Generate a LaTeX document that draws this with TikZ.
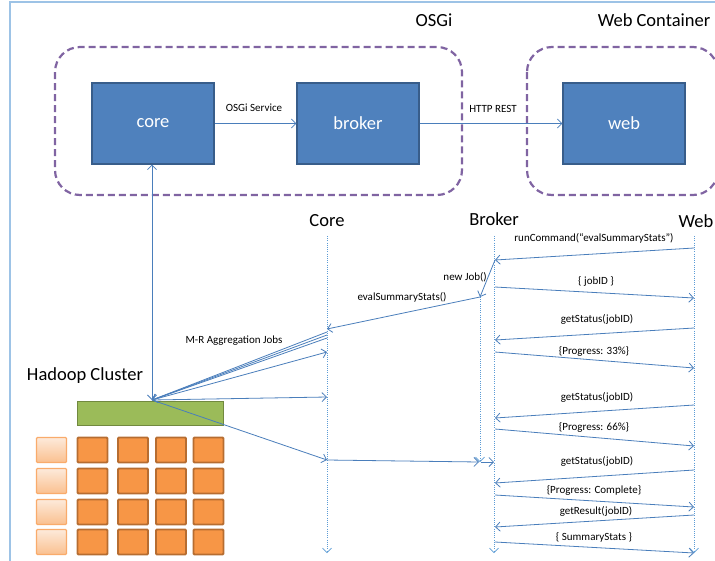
\documentclass[tikz,border=0pt]{standalone}
\usepackage{fontspec}
\setmainfont{Carlito}
\usetikzlibrary{arrows.meta}
\definecolor{boxblue}{HTML}{4F81BD}
\definecolor{boxbord}{HTML}{385D8A}
\definecolor{purp}{HTML}{8064A2}
\definecolor{framec}{HTML}{9DC3E6}
\definecolor{lnblue}{HTML}{4A7EBB}
\definecolor{lifec}{HTML}{5B9BD5}
\definecolor{grn}{HTML}{9BBB59}
\definecolor{grnb}{HTML}{71893F}
\definecolor{org}{HTML}{F79646}
\definecolor{orgb}{HTML}{B66D31}
\definecolor{peachT}{HTML}{FDEADA}
\definecolor{peachB}{HTML}{FAC090}
\begin{document}
\begin{tikzpicture}[x=1pt,y=-1pt,
  comp/.style={draw=boxbord, line width=1.2pt, fill=boxblue, text=white,
    minimum width=122pt, minimum height=81pt, inner sep=0pt,
    font=\fontsize{18.5}{20}\selectfont},
  container/.style={draw=purp, line width=2.2pt, dash pattern=on 7pt off 4pt, rounded corners=25pt},
  title/.style={font=\fontsize{18.5}{20}\selectfont, inner sep=0pt},
  lbl/.style={font=\fontsize{11}{12}\selectfont, inner sep=0pt},
  tip/.style={-{Straight Barb[length=4.5pt,width=9pt]}},
  msg/.style={draw=lnblue, line width=0.8pt, tip},
  life/.style={draw=lifec, line width=0.6pt, dash pattern=on 1pt off 1.2pt,
    -{Straight Barb[length=4.5pt,width=9pt,line width=0.7pt]}},
  osq/.style={draw=orgb, line width=1.8pt, fill=org, rounded corners=1pt,
    minimum width=30pt, minimum height=25pt, inner sep=0pt},
  psq/.style={draw=org!80, line width=1.2pt, top color=peachT, bottom color=peachB,
    rounded corners=1pt, minimum width=30pt, minimum height=25pt, inner sep=0pt}
]
\clip (0,0) rectangle (715,560);
\useasboundingbox (0,0) rectangle (715,560);
% outer frame
\draw[framec, line width=1.5pt] (10,562) -- (10,2) -- (720,2);

% containers
\draw[container] (55,47) rectangle (462,195);
\draw[container] (527,47) rectangle (718,195);
\node[title] (tosgi) at (434,20) {OSGi};
\node[title] (tweb) at (654,20) {Web Container};

% components
\node[comp] (core) at (153,123.5) {core};
\node[comp] (broker) at (358,123.5) {broker};
\node[comp] (web) at (624,123.5) {web};
\draw[msg] (core.east) -- (broker.west);
\draw[msg] (broker.east) -- (web.west);
\node[lbl] (losgi) at (254,108) {OSGi Service};
\node[lbl] (lhttp) at (493,109) {HTTP REST};

% Hadoop cluster
\node[title] (thad) at (85,376) {Hadoop Cluster};
\node[draw=grnb, line width=1.8pt, fill=grn, minimum width=146pt, minimum height=24pt, inner sep=0pt] (bar) at (150.5,413.5) {};
\foreach \r/\y in {1/450,2/481,3/512,4/542}{
  \node[psq] (p\r) at (51.5,\y) {};
  \foreach \c/\x in {1/92.5,2/133,3/171,4/208.5}{
    \node[osq] (q\r\c) at (\x,\y) {};
  }
}
\coordinate (hp) at (152,400);
\draw[msg, {Straight Barb[length=4.5pt,width=9pt]}-{Straight Barb[length=4.5pt,width=9pt]}] (hp) -- (hp |- core.south);

% lifelines
\node[title] (lcore) at (327,221) {Core};
\node[title] (lbroker) at (494,219) {Broker};
\node[title] (lweb) at (696,221) {Web};
\coordinate (cT) at (327,236); \coordinate (cB) at (327,553);
\coordinate (bT) at (494,236); \coordinate (bB) at (494,553);
\coordinate (wT) at (694,236); \coordinate (wB) at (694,553);
\coordinate (aT) at (480,297); \coordinate (aB) at (480,462);
\draw[life] (cT) -- (cB);
\draw[life] (bT) -- (bB);
\draw[life] (wT) -- (wB);
\draw[life] (aT) -- (aB);

% messages web <-> broker
\coordinate (m1s) at (694,248); \coordinate (m1e) at (495,260);
\draw[msg] (m1s) -- (m1e);
\node[lbl] (l1) at (594,238) {runCommand(“evalSummaryStats”)};
\draw[msg] (m1e) -- (aT);
\node[lbl, anchor=east] (l2) at (487,277) {new Job()};
\coordinate (m3s) at (495,287); \coordinate (m3e) at (694,298);
\draw[msg] (m3s) -- (m3e);
\node[lbl] (l3) at (596,281) {\{ jobID \}};
\coordinate (m4e) at (327,329);
\draw[msg] (aT) -- (m4e);
\node[lbl] (l4) at (402,297) {evalSummaryStats()};

\coordinate (m5s) at (694,328); \coordinate (m5e) at (495,340);
\draw[msg] (m5s) -- (m5e);
\node[lbl] (l5) at (597,319) {getStatus(jobID)};
\coordinate (m6s) at (495,352); \coordinate (m6e) at (694,368);
\draw[msg] (m6s) -- (m6e);
\node[lbl] (l6) at (594,351) {\{Progress: 33\%\}};
\coordinate (m7s) at (694,405); \coordinate (m7e) at (495,418);
\draw[msg] (m7s) -- (m7e);
\node[lbl] (l7) at (597,397) {getStatus(jobID)};
\coordinate (m8s) at (495,429); \coordinate (m8e) at (694,446);
\draw[msg] (m8s) -- (m8e);
\node[lbl] (l8) at (594,427) {\{Progress: 66\%\}};
\coordinate (m9s) at (694,470); \coordinate (m9e) at (495,483);
\draw[msg] (m9s) -- (m9e);
\node[lbl] (l9) at (597,461) {getStatus(jobID)};
\coordinate (m10s) at (495,495); \coordinate (m10e) at (694,507);
\draw[msg] (m10s) -- (m10e);
\node[lbl] (l10) at (594,490) {\{Progress: Complete\}};
\coordinate (m11s) at (694,515); \coordinate (m11e) at (495,527);
\draw[msg] (m11s) -- (m11e);
\node[lbl] (l11) at (596,511) {getResult(jobID)};
\coordinate (m12s) at (495,542); \coordinate (m12e) at (694,553);
\draw[msg] (m12s) -- (m12e);
\node[lbl] (l12) at (594,537) {\{ SummaryStats \}};

% M-R jobs core <-> hadoop
\coordinate (j1) at (327,332); \coordinate (j2) at (327,335); \coordinate (j3) at (327,338);
\draw[msg] (j1) -- (hp);
\draw[msg] (j2) -- (hp);
\draw[msg] (j3) -- (hp);
\coordinate (r1) at (327,352); \coordinate (r2) at (327,397); \coordinate (r3) at (327,460);
\draw[msg] (hp) -- (r1);
\draw[msg] (hp) -- (r2);
\draw[msg] (hp) -- (r3);
\node[lbl] (lmr) at (234,341) {M-R Aggregation Jobs};
\coordinate (r4) at (479,462);
\draw[msg] (r3) -- (r4);
\coordinate (r5) at (481,462); \coordinate (r6) at (494,462);
\draw[msg] (r5) -- (r6);
\end{tikzpicture}
\end{document}
